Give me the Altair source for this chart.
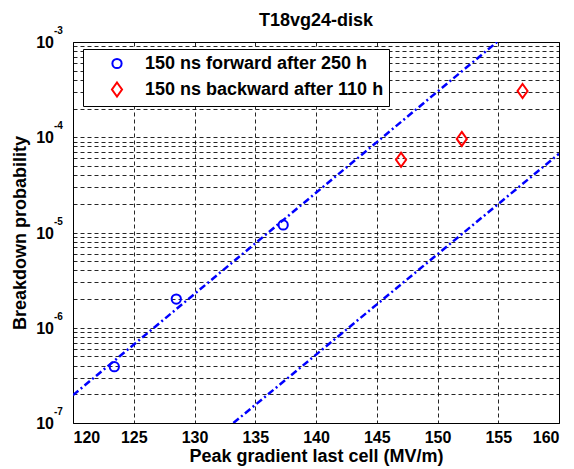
import altair as alt
import pandas as pd

FONT = "Liberation Sans"

# ---- data ----
series_names = ["150 ns forward after 250 h", "150 ns backward after 110 h"]
fwd_x = [123.4, 128.5, 137.3]
fwd_y = [3.9e-7, 2.0e-6, 1.2e-5]
bwd_x = [147.0, 152.0, 157.0]
bwd_y = [5.8e-5, 9.6e-5, 3.06e-4]

fit1_x = [120.0, 154.9]
fit1_y = [1.96e-7, 1.0e-3]
fit2_x = [133.2, 160.0]
fit2_y = [1.0e-7, 6.7e-5]

x_ticks = [120, 125, 130, 135, 140, 145, 150, 155, 160]
y_decades = [-7, -6, -5, -4, -3]
y_grid = [k * 10.0 ** e for e in [-7, -6, -5, -4] for k in range(1, 10)] + [1e-3]

pts = pd.DataFrame({
    "x": fwd_x + bwd_x,
    "y": fwd_y + bwd_y,
    "series": [series_names[0]] * len(fwd_x) + [series_names[1]] * len(bwd_x),
})
fits = pd.DataFrame({
    "x": fit1_x + fit2_x,
    "y": fit1_y + fit2_y,
    "fit": ["a"] * len(fit1_x) + ["b"] * len(fit2_x),
})
ylab = pd.DataFrame({
    "y": [10.0 ** e for e in y_decades],
    "base": ["10"] * len(y_decades),
    "exp": [str(e) for e in y_decades],
})

circle_path = "M0.66,0A0.66,0.66 0 1,1 -0.66,0A0.66,0.66 0 1,1 0.66,0Z"
diamond_path = "M0,-1L0.72,0L0,1L-0.72,0Z"

xscale = alt.Scale(domain=[120, 160], nice=False, zero=False)
yscale = alt.Scale(type="log", domain=[1e-7, 1e-3], nice=False)

xenc = alt.X("x:Q", scale=xscale,
             axis=alt.Axis(values=x_ticks, grid=True, ticks=False, domain=False,
                           title="Peak gradient last cell (MV/m)", format="d",
                           labelPadding=6, titlePadding=2))
yenc = alt.Y("y:Q", scale=yscale,
             axis=alt.Axis(values=y_grid, grid=True, ticks=False, labels=False, domain=False,
                           title="Breakdown probability", titlePadding=44))

lines = alt.Chart(fits).mark_line(
    color="#0000FF", strokeWidth=2.5, strokeDash=[7, 3, 2, 3], clip=True
).encode(x=xenc, y=yenc, detail="fit:N")

points = alt.Chart(pts).mark_point(filled=False, strokeWidth=2, size=196, opacity=1).encode(
    x=alt.X("x:Q", scale=xscale),
    y=alt.Y("y:Q", scale=yscale),
    color=alt.Color("series:N", sort=series_names,
                    scale=alt.Scale(domain=series_names, range=["#0000FF", "#FF0000"]),
                    legend=alt.Legend(title=None, orient="none", legendX=10, legendY=7,
                                      padding=5.5, symbolOffset=19.5, labelOffset=19,
                                      rowPadding=6, symbolSize=196, symbolStrokeWidth=2,
                                      strokeColor="black", fillColor="white", labelLimit=0,
                                      labelFont=FONT, labelFontSize=18, labelFontWeight="bold",
                                      labelColor="black", cornerRadius=0)),
    shape=alt.Shape("series:N", sort=series_names,
                    scale=alt.Scale(domain=series_names, range=[circle_path, diamond_path])),
)

base_lab = alt.Chart(ylab).mark_text(
    align="right", baseline="middle", font=FONT, fontSize=16, fontWeight="bold",
    color="black", dy=1
).encode(y=alt.Y("y:Q", scale=yscale), x=alt.value(-19), text="base:N")

exp_lab = alt.Chart(ylab).mark_text(
    align="left", baseline="middle", font=FONT, fontSize=10, fontWeight="bold",
    color="black", dy=-11
).encode(y=alt.Y("y:Q", scale=yscale), x=alt.value(-19), text="exp:N")

chart = alt.layer(lines, points, base_lab, exp_lab).properties(
    width=486, height=381,
    autosize=alt.AutoSizeParams(type="none"),
    padding={"left": 73, "top": 42, "right": 15, "bottom": 46},
    title=alt.TitleParams("T18vg24-disk", font=FONT, fontSize=18, fontWeight="bold",
                          color="black", offset=13, dy=17, anchor="middle", frame="group"),
    background="white",
).configure_view(stroke="black", strokeWidth=1).configure_axis(
    gridColor="black", gridDash=[4, 3], gridWidth=1, gridOpacity=0.85,
    labelFont=FONT, labelFontSize=16, labelFontWeight="bold", labelColor="black",
    titleFont=FONT, titleFontSize=18, titleFontWeight="bold", titleColor="black",
)

chart.save("out.html", embed_options={"renderer": "svg", "actions": False})
